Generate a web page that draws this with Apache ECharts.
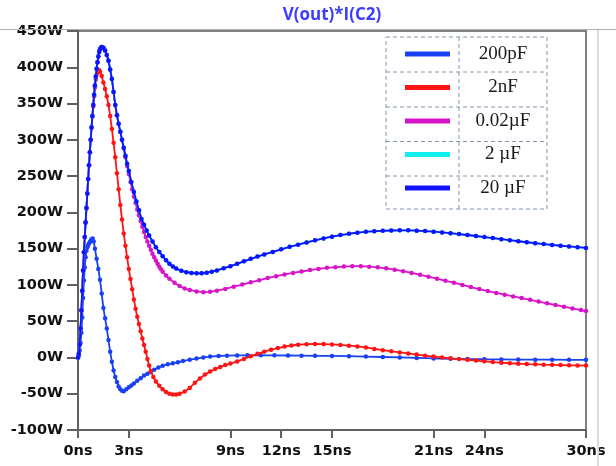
<!DOCTYPE html>
<html>
<head>
<meta charset="utf-8">
<style>html,body{margin:0;padding:0;background:#fff;}#c{width:616px;height:466px;}</style>
<script src="https://cdn.jsdelivr.net/npm/echarts@6/dist/echarts.min.js"></script>
</head>
<body>
<div id="c"></div>
<script>
// ---- data (time in ns, power in W) ----
const seriesNames = ['200pF', '2nF', '0.02µF', '2 µF', '20 µF'];
const xTickValues = [0, 3, 9, 12, 15, 21, 24, 30];
const yTickValues = [-100, -50, 0, 50, 100, 150, 200, 250, 300, 350, 400, 450];

const c200pF = [[0,0],[0.05,3],[0.1,10],[0.15,20],[0.2,34],[0.25,55],[0.3,82],[0.35,106],[0.4,124],[0.45,138],[0.5,147],[0.55,152],[0.6,155],[0.65,157],[0.7,159],[0.75,161],[0.8,163],[0.87,164],[0.93,160],[1.0,150],[1.1,136],[1.2,122],[1.3,107],[1.4,88],[1.5,68],[1.6,54],[1.7,40],[1.8,24],[1.9,8],[2.0,-6],[2.1,-18],[2.2,-27],[2.3,-34],[2.4,-40],[2.5,-44],[2.6,-46],[2.7,-46.5],[2.85,-44],[3.0,-41],[3.15,-38.5],[3.3,-36],[3.5,-32],[3.7,-28.5],[3.9,-25],[4.1,-22.5],[4.3,-20],[4.5,-17],[4.75,-14],[5.0,-11.5],[5.3,-9.5],[5.6,-8],[5.9,-6.5],[6.2,-5],[6.6,-3],[7.0,-1.5],[7.4,0],[7.8,1.2],[8.3,2],[8.8,2.5],[9.4,2.8],[10.0,3],[10.8,3],[11.6,2.9],[12.4,2.7],[13.2,2.5],[14.0,2.3],[15.0,2.1],[16.0,1.8],[17.0,1.2],[18.0,0.6],[19.0,0],[20.0,-0.6],[21.0,-1.3],[22.0,-1.8],[23.0,-2.2],[24.0,-2.5],[25.0,-2.7],[26.0,-2.9],[27.0,-3],[28.0,-3.1],[29.0,-3.2],[30.0,-3.3]];

const c2nF = [[0,0],[0.05,5],[0.1,18],[0.15,40],[0.2,65],[0.25,92],[0.3,120],[0.35,145],[0.4,166],[0.45,186],[0.5,206],[0.55,226],[0.6,246],[0.65,265],[0.7,283],[0.75,300],[0.8,317],[0.85,332],[0.9,346],[0.95,360],[1.0,372],[1.05,383],[1.1,390],[1.15,394],[1.2,396],[1.25,396],[1.3,394],[1.4,388],[1.5,379],[1.6,370],[1.7,360],[1.8,348],[1.9,333],[2.0,315],[2.1,296],[2.2,276],[2.3,254],[2.4,232],[2.5,210],[2.6,190],[2.7,171],[2.8,154],[2.9,138],[3.0,122],[3.1,108],[3.2,94],[3.3,80],[3.4,67],[3.5,56],[3.6,46],[3.7,36],[3.8,26],[3.9,17],[4.0,8],[4.1,-2],[4.2,-11],[4.3,-19],[4.45,-27],[4.6,-33],[4.8,-39],[5.0,-44],[5.2,-47.5],[5.4,-50],[5.6,-51],[5.8,-51],[6.0,-50],[6.3,-47],[6.6,-42],[6.9,-35],[7.2,-29],[7.5,-23.5],[7.8,-19.5],[8.1,-16],[8.4,-13],[8.7,-10.5],[9.0,-8.5],[9.4,-5.5],[9.8,-2],[10.2,1.5],[10.6,5],[11.0,8],[11.4,10.7],[11.8,13],[12.2,15],[12.6,16.5],[13.0,17.5],[13.5,18.3],[14.0,18.6],[14.5,18.5],[15.0,18],[15.5,17.2],[16.0,16.3],[16.5,15.2],[17.0,13.8],[17.5,11.8],[18.0,10],[18.5,8.5],[19.0,7],[19.5,5.5],[20.0,4],[20.5,2.5],[21.0,1.2],[21.5,0],[22.0,-1.2],[22.5,-2.3],[23.0,-3.3],[23.5,-4.3],[24.0,-5.3],[24.5,-6.3],[25.0,-7.2],[25.5,-8],[26.0,-8.6],[26.5,-9.1],[27.0,-9.5],[27.5,-9.9],[28.0,-10.2],[28.5,-10.5],[29.0,-10.8],[29.5,-11],[30.0,-11.2]];

const c002uF = [[0,0],[0.05,5],[0.1,18],[0.15,40],[0.2,65],[0.25,92],[0.3,120],[0.35,145],[0.4,166],[0.45,186],[0.5,206],[0.55,226],[0.6,246],[0.65,265],[0.7,283],[0.75,300],[0.8,317],[0.85,333],[0.9,348],[0.95,362],[1.0,375],[1.05,387],[1.1,398],[1.15,407],[1.2,415],[1.25,421],[1.3,425],[1.35,427],[1.4,428],[1.5,427],[1.6,423],[1.7,417],[1.8,409],[1.9,397],[2.0,384],[2.1,366],[2.2,348],[2.3,334],[2.4,322],[2.5,311],[2.6,300],[2.7,288],[2.8,276],[2.9,264],[3.0,253],[3.1,242],[3.2,232],[3.3,222],[3.4,213],[3.5,204],[3.6,196],[3.7,188],[3.8,180],[3.9,173],[4.0,166],[4.1,160],[4.2,154],[4.3,148.5],[4.4,143],[4.5,138],[4.6,133.5],[4.7,129],[4.8,125],[4.9,121.5],[5.0,118],[5.2,113],[5.4,108.5],[5.7,103],[6.0,98.5],[6.3,95],[6.6,93],[7.0,91],[7.4,90],[7.8,90.5],[8.2,92],[8.7,94.5],[9.2,97.5],[9.7,100.5],[10.2,103.5],[10.7,106.5],[11.2,109.5],[11.7,112],[12.2,114.5],[12.7,116.5],[13.2,118.5],[13.7,120.5],[14.2,122],[14.7,123.5],[15.2,124.5],[15.7,125.3],[16.2,125.8],[16.7,125.8],[17.2,125.2],[17.7,124.3],[18.2,122.8],[18.7,121],[19.2,119],[19.7,116.5],[20.2,114],[20.7,111.3],[21.2,108.5],[21.7,105.7],[22.2,103],[22.7,100],[23.2,97],[23.7,94.2],[24.2,91.5],[24.7,89],[25.2,86.5],[25.7,84.1],[26.2,81.8],[26.7,79.4],[27.2,77],[27.7,74.6],[28.2,72.3],[28.7,70],[29.2,67.6],[29.7,65.4],[30.0,64]];

const c2uF = [[0,0],[0.05,5],[0.1,18],[0.15,40],[0.2,65],[0.25,92],[0.3,120],[0.35,145],[0.4,166],[0.45,186],[0.5,206],[0.55,226],[0.6,246],[0.65,265],[0.7,283],[0.75,300],[0.8,317],[0.85,333],[0.9,348],[0.95,362],[1.0,375],[1.05,387],[1.1,398],[1.15,407],[1.2,415],[1.25,421],[1.3,425],[1.35,427],[1.4,428],[1.5,427],[1.6,423],[1.7,417],[1.8,409],[1.9,397],[2.0,384],[2.1,366],[2.2,348],[2.3,334],[2.4,322],[2.5,311],[2.6,300],[2.7,289],[2.8,278],[2.9,267],[3.0,257],[3.15,242],[3.3,228],[3.45,215],[3.6,203],[3.75,191],[3.9,183],[4.05,175],[4.2,168],[4.4,160],[4.6,152],[4.8,145.5],[5.0,139.5],[5.2,134],[5.4,129],[5.6,125.5],[5.8,122.5],[6.1,119.5],[6.4,117.5],[6.7,116.5],[7.0,116],[7.3,116],[7.6,116.8],[7.9,118.2],[8.2,120],[8.6,122.8],[9.0,125.8],[9.4,129],[9.8,132.5],[10.2,136],[10.6,139],[11.0,142],[11.5,145.5],[12.0,149],[12.5,152.5],[13.0,155.5],[13.5,158.5],[14.0,161.5],[14.5,164],[15.0,166.5],[15.5,168.7],[16.0,170.5],[16.5,172],[17.0,173.2],[17.5,174],[18.0,174.6],[18.5,175],[19.0,175.2],[19.5,175.2],[20.0,174.8],[20.5,174.2],[21.0,173.4],[21.5,172.4],[22.0,171.3],[22.5,170.1],[23.0,168.8],[23.5,167.4],[24.0,166],[24.5,164.5],[25.0,163],[25.5,161.6],[26.0,160.2],[26.5,158.8],[27.0,157.5],[27.5,156.3],[28.0,155.1],[28.5,154],[29.0,153],[29.5,152],[30.0,151]];

const c20uF = [[0,0],[0.05,5],[0.1,18],[0.15,40],[0.2,65],[0.25,92],[0.3,120],[0.35,145],[0.4,166],[0.45,186],[0.5,206],[0.55,226],[0.6,246],[0.65,265],[0.7,283],[0.75,300],[0.8,317],[0.85,333],[0.9,348],[0.95,362],[1.0,375],[1.05,387],[1.1,398],[1.15,407],[1.2,415],[1.25,421],[1.3,425],[1.35,427],[1.4,428],[1.5,427],[1.6,423],[1.7,417],[1.8,409],[1.9,397],[2.0,384],[2.1,366],[2.2,348],[2.3,334],[2.4,322],[2.5,311],[2.6,300],[2.7,289],[2.8,278],[2.9,267],[3.0,257],[3.15,242],[3.3,228],[3.45,215],[3.6,203],[3.75,191],[3.9,183],[4.05,175],[4.2,168],[4.4,160],[4.6,152],[4.8,145.5],[5.0,139.5],[5.2,134],[5.4,129],[5.6,125.5],[5.8,122.5],[6.1,119.5],[6.4,117.5],[6.7,116.5],[7.0,116],[7.3,116],[7.6,116.8],[7.9,118.2],[8.2,120],[8.6,122.8],[9.0,125.8],[9.4,129],[9.8,132.5],[10.2,136],[10.6,139],[11.0,142],[11.5,145.5],[12.0,149],[12.5,152.5],[13.0,155.5],[13.5,158.5],[14.0,161.5],[14.5,164],[15.0,166.5],[15.5,168.7],[16.0,170.5],[16.5,172],[17.0,173.2],[17.5,174],[18.0,174.6],[18.5,175],[19.0,175.2],[19.5,175.2],[20.0,174.8],[20.5,174.2],[21.0,173.4],[21.5,172.4],[22.0,171.3],[22.5,170.1],[23.0,168.8],[23.5,167.4],[24.0,166],[24.5,164.5],[25.0,163],[25.5,161.6],[26.0,160.2],[26.5,158.8],[27.0,157.5],[27.5,156.3],[28.0,155.1],[28.5,154],[29.0,153],[29.5,152],[30.0,151]];

const seriesData = [c200pF, c2nF, c002uF, c2uF, c20uF];
const seriesColors = ['#1a40f4', '#ff1414', '#d814c8', '#10eeee', '#1212ff'];

// ---- chart ----
const chart = echarts.init(document.getElementById('c'), null, {renderer: 'canvas'});
const axisFont = {fontFamily: 'DejaVu Sans', fontWeight: 'bold', fontSize: 14.5, color: '#111'};

// legend table geometry
const tb = {x: 386, y: 37, w: 161, h: 172, col: 459, rows: [72, 107, 141.5, 176]};
const dash = {stroke: '#8496b0', lineWidth: 1, lineDash: [4, 3]};
const tableGraphics = [
  {type: 'rect', shape: {x: tb.x, y: tb.y, width: tb.w, height: tb.h}, style: Object.assign({fill: '#fff'}, dash), z: 3},
  {type: 'line', shape: {x1: tb.col, y1: tb.y, x2: tb.col, y2: tb.y + tb.h}, style: dash, z: 3}
].concat(tb.rows.map(r => ({type: 'line', shape: {x1: tb.x, y1: r, x2: tb.x + tb.w, y2: r}, style: dash, z: 3})));

chart.setOption({
  animation: false,
  backgroundColor: '#fff',
  grid: {left: 78, right: 30, top: 31, bottom: 36, show: true, borderColor: '#585858', borderWidth: 1.5, backgroundColor: 'transparent'},
  xAxis: {
    type: 'value', min: 0, max: 30, interval: 3,
    axisLine: {show: true, onZero: false, lineStyle: {color: '#606060', width: 2}},
    axisTick: {show: true, length: 8, customValues: xTickValues, lineStyle: {color: '#606060', width: 2}},
    axisLabel: Object.assign({margin: 14, customValues: xTickValues, formatter: v => v + 'ns'}, axisFont),
    splitLine: {show: false}
  },
  yAxis: {
    type: 'value', min: -100, max: 450, interval: 50,
    axisLine: {show: true, onZero: false, lineStyle: {color: '#606060', width: 2}},
    axisTick: {show: true, length: 11, customValues: yTickValues, lineStyle: {color: '#606060', width: 2}},
    axisLabel: Object.assign({margin: 15, customValues: yTickValues, formatter: v => v + 'W'}, axisFont),
    splitLine: {show: false}
  },
  legend: {
    orient: 'vertical', left: 405, top: 44.5, padding: 0,
    itemWidth: 45, itemHeight: 5, itemGap: 14.5,
    icon: 'rect', selectedMode: false,
    data: seriesNames,
    formatter: '{n|{name}}',
    textStyle: {rich: {n: {width: 96, align: 'center', fontFamily: 'Liberation Serif', fontSize: 19, lineHeight: 20, color: '#1a1a1a'}}},
    z: 5
  },
  graphic: [
    {type: 'line', shape: {x1: 0, y1: 29.5, x2: 616, y2: 29.5}, style: {stroke: '#b0b0b0', lineWidth: 1}, z: 1},
    {type: 'line', shape: {x1: 598, y1: 30, x2: 598, y2: 466}, style: {stroke: '#dcdcdc', lineWidth: 2}, z: 1},
    {type: 'text', x: 332, y: 15, style: {text: 'V(out)*I(C2)', fill: '#3c3cff', font: 'bold 17px "Open Sans"', textAlign: 'center', textVerticalAlign: 'middle'}, z: 5}
  ].concat(tableGraphics),
  series: seriesNames.map((name, i) => ({
    name: name, type: 'line', data: seriesData[i],
    color: seriesColors[i],
    lineStyle: {width: 1.8, color: seriesColors[i]},
    itemStyle: {color: seriesColors[i]},
    symbol: 'circle', symbolSize: 4.5, showSymbol: true, showAllSymbol: true,
    z: 2 + i * 0.01
  }))
});
</script>
</body>
</html>
